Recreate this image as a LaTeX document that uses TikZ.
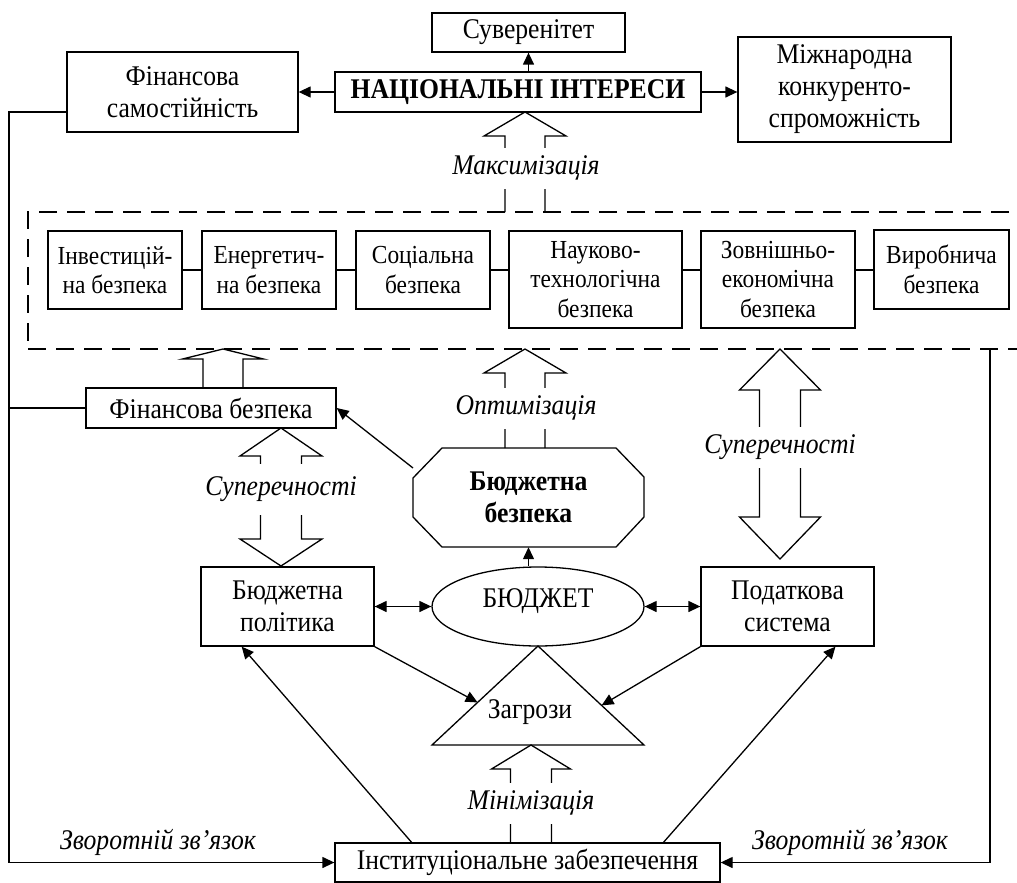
\documentclass[tikz,border=0pt]{standalone}
\usepackage{fontspec}
\setmainfont{Liberation Serif}[FakeStretch=0.9]
\usetikzlibrary{arrows.meta,calc,shapes.geometric}
\newcommand\hollowup[6]{% x, tip y, head base y, shaft end y, head half, shaft half
  \draw[hollow] (#1-#6,#4) -- (#1-#6,#3) -- (#1-#5,#3) -- (#1,#2) -- (#1+#5,#3) -- (#1+#6,#3) -- (#1+#6,#4);}
\newcommand\hollowboth[7]{% x, top tip, top base, bottom base, bottom tip, head half, shaft half
  \draw[hollow] (#1,#2) -- (#1+#6,#3) -- (#1+#7,#3) -- (#1+#7,#4) -- (#1+#6,#4) -- (#1,#5)
    -- (#1-#6,#4) -- (#1-#7,#4) -- (#1-#7,#3) -- (#1-#6,#3) -- cycle;}
\begin{document}
\begin{tikzpicture}[x=1pt,y=-1pt,
  every node/.style={font=\fontsize{28.5}{32}\selectfont},
  box/.style={draw, line width=1.3pt, inner sep=0pt, align=center},
  ibox/.style={box, font=\fontsize{26}{29.5}\selectfont},
  arr/.style={line width=1.3pt, -{Triangle[length=12pt,width=11pt]}},
  arrtwo/.style={line width=1.3pt, {Triangle[length=12pt,width=11pt]}-{Triangle[length=12pt,width=11pt]}},
  conn/.style={line width=1.3pt},
  hollow/.style={line width=1.3pt, line join=miter},
  lbl/.style={fill=white, font=\fontsize{28.5}{32}\selectfont\itshape, inner xsep=2pt, inner ysep=0pt, minimum height=41pt},
  fb/.style={font=\fontsize{28.5}{32}\selectfont\itshape, inner sep=0pt}]
\useasboundingbox (0,0) rectangle (1017,883);

% top row
\node[box, minimum width=193pt, minimum height=39pt] (suv) at (528.5,32.5) {Суверенітет};
\node[box, font=\fontsize{28.5}{32}\selectfont\bfseries, minimum width=366pt, minimum height=40pt] (nat) at (518,92) {НАЦІОНАЛЬНІ ІНТЕРЕСИ};
\node[box, minimum width=231pt, minimum height=80pt] (fsam) at (182.5,92) {Фінансова\\самостійність};
\node[box, minimum width=213pt, minimum height=105pt] (mizh) at (844.5,89.5) {Міжнародна\\конкуренто-\\спроможність};

\draw[arr] (nat.north -| suv.south) -- (suv.south);
\draw[arr] (nat.west) -- (fsam.east);
\draw[arr] (nat.east) -- (nat.east -| mizh.west);

% dashed section
\node[draw, line width=2.6pt, dash pattern=on 18pt off 10pt, minimum width=1010pt, minimum height=137pt, inner sep=0pt] (sec) at (533,280.5) {};

\node[ibox, minimum width=134pt, minimum height=78pt] (b1) at (115,270) {Інвестицій-\\на безпека};
\node[ibox, minimum width=134pt, minimum height=78pt] (b2) at (269,270) {Енергетич-\\на безпека};
\node[ibox, minimum width=134pt, minimum height=78pt] (b3) at (423,270) {Соціальна\\безпека};
\node[ibox, minimum width=173pt, minimum height=97pt] (b4) at (595.5,279.5) {Науково-\\технологічна\\безпека};
\node[ibox, minimum width=154pt, minimum height=97pt] (b5) at (778,279.5) {Зовнішньо-\\економічна\\безпека};
\node[ibox, minimum width=135pt, minimum height=79pt] (b6) at (941.5,269.5) {Виробнича\\безпека};
\draw[conn] (b1.east) -- (b2.west);
\draw[conn] (b2.east) -- (b3.west);
\draw[conn] (b3.east) -- (b3.east -| b4.west);
\draw[conn] (b4.east |- b3.east) -- (b5.west |- b3.east);
\draw[conn] (b5.east |- b3.east) -- (b6.west |- b3.east);

% middle
\node[box, minimum width=250pt, minimum height=40pt] (fbez) at (211,408) {Фінансова безпека};
\node[inner sep=0pt, minimum width=231pt, minimum height=99pt, align=center, font=\fontsize{28.5}{32}\selectfont\bfseries] (oct) at (528.5,497.5) {Бюджетна\\безпека};
\draw[line width=1.3pt] (442,448) -- (616,448) -- (644,477) -- (644,517) -- (616,547) -- (442,547) -- (413,517) -- (413,478) -- cycle;
\coordinate (octL) at (413,468);

\node[box, minimum width=173pt, minimum height=79pt] (bp) at (287.5,606.5) {Бюджетна\\політика};
\node[draw, line width=1.3pt, ellipse, inner sep=0pt, minimum width=212pt, minimum height=79pt] (ell) at (538,606.5) {\raisebox{16pt}{БЮДЖЕТ}};
\node[box, minimum width=173pt, minimum height=79pt] (pod) at (787.5,606.5) {Податкова\\система};

\coordinate (tA) at (538,646);
\coordinate (tL) at (432,745);
\coordinate (tR) at (644,745);
\draw[line width=1.3pt, line join=miter] (tA) -- (tR) -- (tL) -- cycle;
\node (zag) at (530,712) {Загрози};

\node[box, minimum width=385pt, minimum height=39pt] (inst) at (527.5,862.5) {Інституціональне забезпечення};

% hollow arrows
\hollowup{525}{112}{136}{212}{41}{20}
\node[lbl] at (526,168) {Максимізація};
\hollowup{223}{349}{359}{388}{40.5}{20}
\hollowup{525}{349}{373}{448}{41}{20}
\node[lbl] at (526,408) {Оптимізація};
\hollowboth{780}{349}{390}{517}{559}{40.5}{20.5}
\node[lbl] at (780,447) {Суперечності};
\hollowboth{281}{428}{456}{539}{566}{41}{20.5}
\node[lbl, minimum height=51pt] at (281,489) {Суперечності};
\hollowup{531}{745}{769}{843}{39.5}{20.5}
\node[lbl] at (531,803) {Мінімізація};

% arrows
\draw[arr] (octL) -- (fbez.east);
\draw[arr] (oct.south |- ell.north) -- (oct.south);
\draw[arrtwo] (bp.east) -- (ell.west);
\draw[arrtwo] (ell.east) -- (pod.west);
\draw[arr] (bp.south east) -- ($(tA)!0.57!(tL)$);
\draw[arr] (pod.south west) -- ($(tA)!0.6!(tR)$);
\draw[arr] ($(inst.north west)!0.2!(inst.north east)$) -- ($(bp.south west)!0.237!(bp.south east)$);
\draw[arr] ($(inst.north west)!0.852!(inst.north east)$) -- ($(pod.south west)!0.775!(pod.south east)$);

% feedback
\coordinate (lf1) at (67,112);
\coordinate (lf2) at (9,112);
\coordinate (lf3) at (9,862.5);
\draw[arr] (lf1) -- (lf2) -- (lf3) -- (inst.west);
\draw[conn] (fbez.west) -- (fbez.west -| lf2);
\coordinate (rf1) at (990,349);
\coordinate (rf2) at (990,862.5);
\draw[arr] (rf1) -- (rf2) -- (inst.east);
\node[fb] at (158,842) {Зворотній зв’язок};
\node[fb] at (850,842) {Зворотній зв’язок};
\end{tikzpicture}
\end{document}
